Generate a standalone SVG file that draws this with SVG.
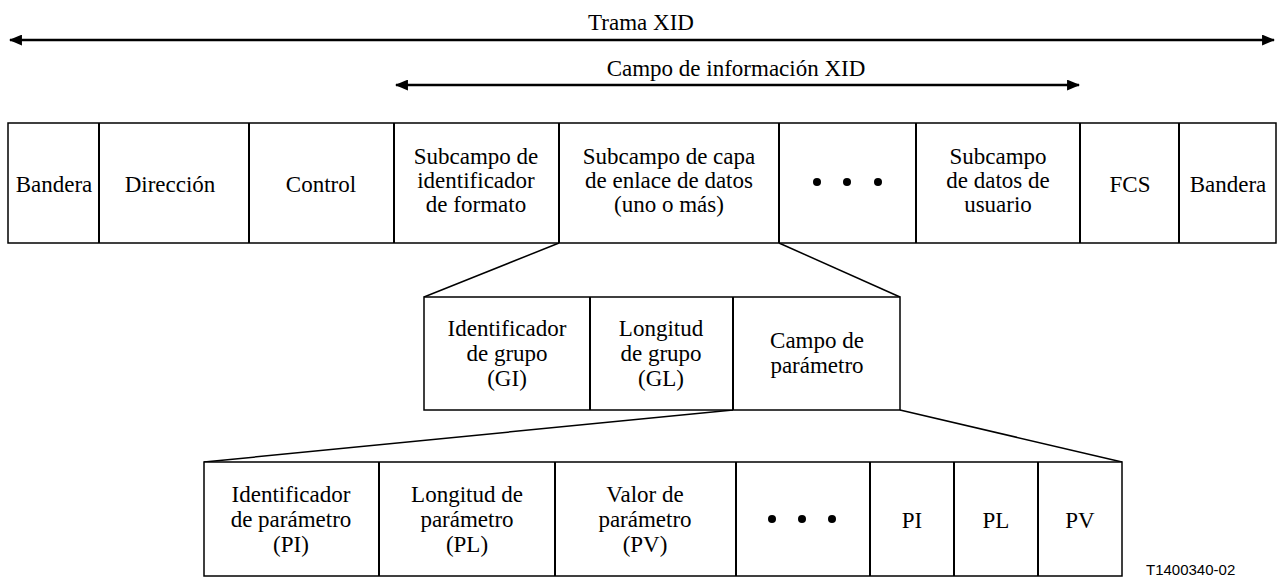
<svg xmlns="http://www.w3.org/2000/svg" width="1281" height="578" viewBox="0 0 1281 578" font-family="Liberation Serif, serif">
<defs>
<style>
.box{fill:#fff;stroke:#000;stroke-width:1.5}
.div{stroke:#000;stroke-width:2}
.ln{stroke:#000;stroke-width:1.5;fill:none}
.ar{stroke:#000;stroke-width:2.5;fill:none}
</style>
<marker id="ah" viewBox="0 0 12 10" refX="11" refY="5" markerWidth="13" markerHeight="11" markerUnits="userSpaceOnUse" orient="auto-start-reverse">
<path d="M0,0 L12,5 L0,10 Z" fill="#000"/>
</marker>
</defs>
<rect width="1281" height="578" fill="#fff"/>

<g id="connectors">
<line class="ar" x1="10" y1="40" x2="1274" y2="40" marker-start="url(#ah)" marker-end="url(#ah)"/>
<line class="ar" x1="396" y1="85" x2="1079" y2="85" marker-start="url(#ah)" marker-end="url(#ah)"/>
<line class="ln" x1="559" y1="243" x2="424" y2="297"/>
<line class="ln" x1="779" y1="243" x2="900" y2="297"/>
<line class="ln" x1="733" y1="410" x2="204" y2="462"/>
<line class="ln" x1="900" y1="410" x2="1122" y2="462"/>
</g>

<g id="labels">
<text font-family="Liberation Serif, serif" font-size="23" text-anchor="middle" x="641" y="30">Trama XID</text>
<text font-family="Liberation Serif, serif" font-size="23" text-anchor="middle" x="736" y="76">Campo de información XID</text>
</g>

<g id="trama">
<rect class="box" x="8" y="123" width="1268" height="120"/>
<g id="dividers1">
<line class="div" x1="99" y1="123" x2="99" y2="243"/><line class="div" x1="249" y1="123" x2="249" y2="243"/><line class="div" x1="394" y1="123" x2="394" y2="243"/><line class="div" x1="559" y1="123" x2="559" y2="243"/><line class="div" x1="779" y1="123" x2="779" y2="243"/><line class="div" x1="916" y1="123" x2="916" y2="243"/><line class="div" x1="1080" y1="123" x2="1080" y2="243"/><line class="div" x1="1179" y1="123" x2="1179" y2="243"/>
</g>
<g id="bandera1"><text font-family="Liberation Serif, serif" font-size="23" text-anchor="middle" x="54" y="192">Bandera</text></g>
<g id="direccion"><text font-family="Liberation Serif, serif" font-size="23" text-anchor="middle" x="170" y="192">Dirección</text></g>
<g id="control"><text font-family="Liberation Serif, serif" font-size="23" text-anchor="middle" x="321" y="192">Control</text></g>
<g id="subid"><text font-family="Liberation Serif, serif" font-size="23" text-anchor="middle" x="476" y="164">Subcampo de</text><text font-family="Liberation Serif, serif" font-size="23" text-anchor="middle" x="476" y="188">identificador</text><text font-family="Liberation Serif, serif" font-size="23" text-anchor="middle" x="476" y="212">de formato</text></g>
<g id="subcapa"><text font-family="Liberation Serif, serif" font-size="23" text-anchor="middle" x="669" y="164">Subcampo de capa</text><text font-family="Liberation Serif, serif" font-size="23" text-anchor="middle" x="669" y="188">de enlace de datos</text><text font-family="Liberation Serif, serif" font-size="23" text-anchor="middle" x="669" y="212">(uno o más)</text></g>
<g id="dots1"><circle cx="817" cy="182" r="4"/><circle cx="847" cy="182" r="4"/><circle cx="878" cy="182" r="4"/></g>
<g id="subusuario"><text font-family="Liberation Serif, serif" font-size="23" text-anchor="middle" x="998" y="164">Subcampo</text><text font-family="Liberation Serif, serif" font-size="23" text-anchor="middle" x="998" y="188">de datos de</text><text font-family="Liberation Serif, serif" font-size="23" text-anchor="middle" x="998" y="212">usuario</text></g>
<g id="fcs"><text font-family="Liberation Serif, serif" font-size="23" text-anchor="middle" x="1130" y="192">FCS</text></g>
<g id="bandera2"><text font-family="Liberation Serif, serif" font-size="23" text-anchor="middle" x="1228" y="192">Bandera</text></g>
</g>

<g id="grupo">
<rect class="box" x="424" y="297" width="476" height="113"/>
<g id="dividers2"><line class="div" x1="590" y1="297" x2="590" y2="410"/><line class="div" x1="733" y1="297" x2="733" y2="410"/></g>
<g id="gi"><text font-family="Liberation Serif, serif" font-size="23" text-anchor="middle" x="507" y="336">Identificador</text><text font-family="Liberation Serif, serif" font-size="23" text-anchor="middle" x="507" y="361">de grupo</text><text font-family="Liberation Serif, serif" font-size="23" text-anchor="middle" x="507" y="386">(GI)</text></g>
<g id="gl"><text font-family="Liberation Serif, serif" font-size="23" text-anchor="middle" x="661" y="336">Longitud</text><text font-family="Liberation Serif, serif" font-size="23" text-anchor="middle" x="661" y="361">de grupo</text><text font-family="Liberation Serif, serif" font-size="23" text-anchor="middle" x="661" y="386">(GL)</text></g>
<g id="campoparam"><text font-family="Liberation Serif, serif" font-size="23" text-anchor="middle" x="817" y="348">Campo de</text><text font-family="Liberation Serif, serif" font-size="23" text-anchor="middle" x="817" y="373">parámetro</text></g>
</g>

<g id="parametros">
<rect class="box" x="204" y="462" width="918" height="114"/>
<g id="dividers3"><line class="div" x1="379" y1="462" x2="379" y2="576"/><line class="div" x1="555" y1="462" x2="555" y2="576"/><line class="div" x1="736" y1="462" x2="736" y2="576"/><line class="div" x1="870" y1="462" x2="870" y2="576"/><line class="div" x1="954" y1="462" x2="954" y2="576"/><line class="div" x1="1038" y1="462" x2="1038" y2="576"/></g>
<g id="pi1"><text font-family="Liberation Serif, serif" font-size="23" text-anchor="middle" x="291" y="502">Identificador</text><text font-family="Liberation Serif, serif" font-size="23" text-anchor="middle" x="291" y="527">de parámetro</text><text font-family="Liberation Serif, serif" font-size="23" text-anchor="middle" x="291" y="552">(PI)</text></g>
<g id="pl1"><text font-family="Liberation Serif, serif" font-size="23" text-anchor="middle" x="467" y="502">Longitud de</text><text font-family="Liberation Serif, serif" font-size="23" text-anchor="middle" x="467" y="527">parámetro</text><text font-family="Liberation Serif, serif" font-size="23" text-anchor="middle" x="467" y="552">(PL)</text></g>
<g id="pv1"><text font-family="Liberation Serif, serif" font-size="23" text-anchor="middle" x="645" y="502">Valor de</text><text font-family="Liberation Serif, serif" font-size="23" text-anchor="middle" x="645" y="527">parámetro</text><text font-family="Liberation Serif, serif" font-size="23" text-anchor="middle" x="645" y="552">(PV)</text></g>
<g id="dots2"><circle cx="772" cy="519" r="4"/><circle cx="802" cy="519" r="4"/><circle cx="832" cy="519" r="4"/></g>
<g id="pi2"><text font-family="Liberation Serif, serif" font-size="23" text-anchor="middle" x="912" y="528">PI</text></g>
<g id="pl2"><text font-family="Liberation Serif, serif" font-size="23" text-anchor="middle" x="996" y="528">PL</text></g>
<g id="pv2"><text font-family="Liberation Serif, serif" font-size="23" text-anchor="middle" x="1080" y="528">PV</text></g>
</g>

<text font-family="Liberation Sans, sans-serif" font-size="15" x="1146" y="575">T1400340-02</text>
</svg>
